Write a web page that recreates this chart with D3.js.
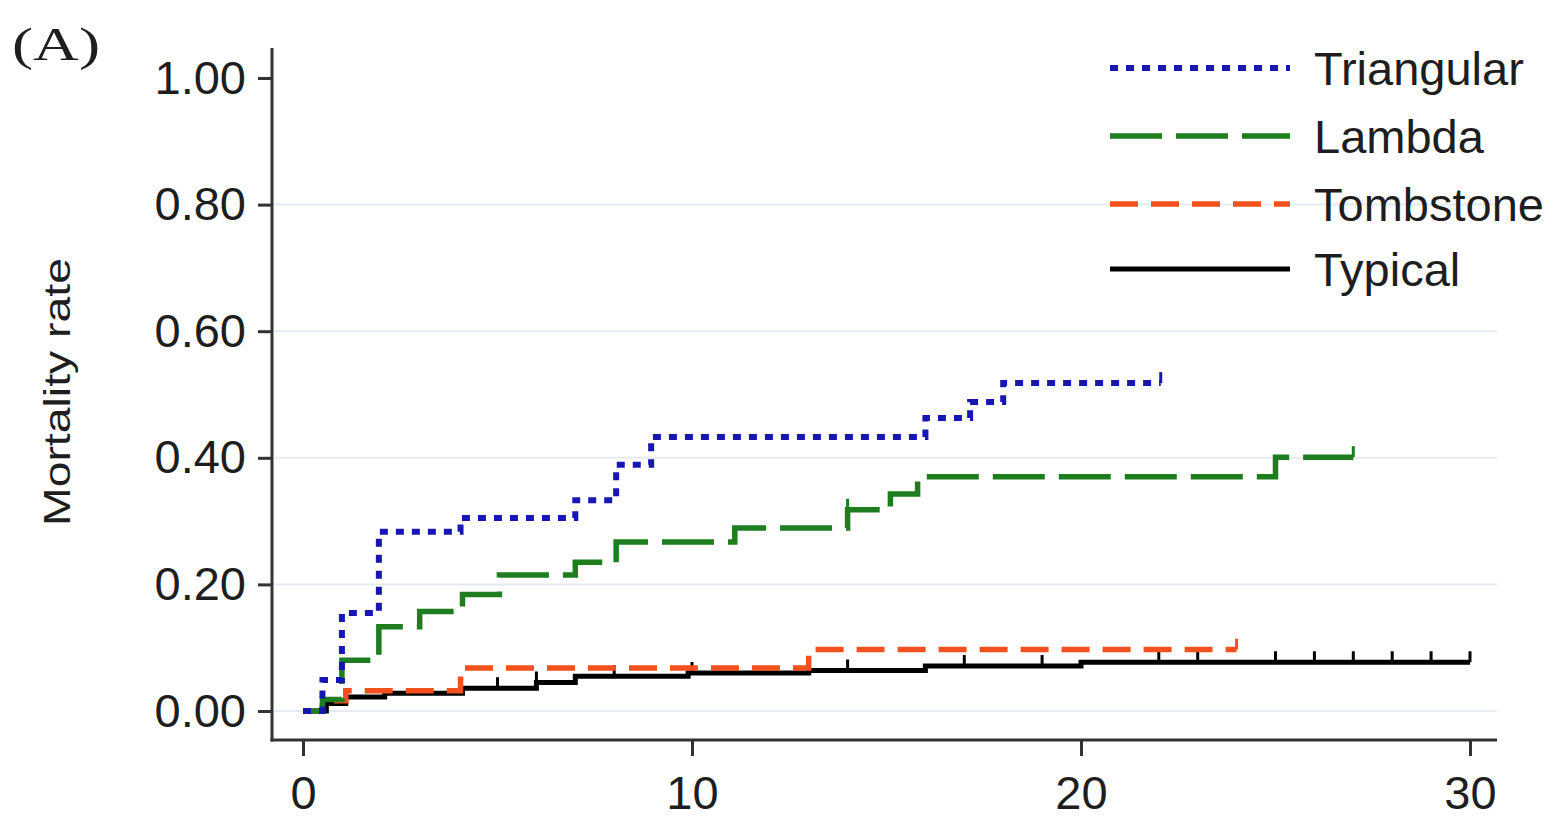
<!DOCTYPE html>
<html>
<head>
<meta charset="utf-8">
<script src="https://cdn.jsdelivr.net/npm/d3@7"></script>
<style>
  html, body { margin: 0; padding: 0; background: #ffffff; }
  svg { display: block; }
</style>
</head>
<body>
<svg id="chart" width="1563" height="822"></svg>
<script>
// Cumulative mortality (Kaplan–Meier style step curves) by pattern
const seriesNames = ["Triangular", "Lambda", "Tombstone", "Typical"];

const triangularTime = [0, 0.5, 1.0, 1.95, 4.05, 7.0, 8.05, 8.95, 16.0, 17.15, 18.0, 22.05];
const triangularRate = [0, 0.049, 0.155, 0.283, 0.305, 0.333, 0.389, 0.433, 0.463, 0.488, 0.518, 0.518];
const triangularCensor = [22.05];

const lambdaTime = [0, 0.5, 1.0, 1.95, 3.0, 4.1, 5.05, 7.0, 8.05, 11.1, 14.0, 15.1, 15.8, 25.0, 27.0];
const lambdaRate = [0, 0.018, 0.080, 0.133, 0.157, 0.184, 0.215, 0.235, 0.267, 0.289, 0.318, 0.343, 0.370, 0.401, 0.401];
const lambdaCensor = [14.0, 27.0];

const tombstoneTime = [0, 0.5, 1.1, 4.05, 13.0, 24.0];
const tombstoneRate = [0, 0.016, 0.032, 0.068, 0.097, 0.097];
const tombstoneCensor = [24.0];

const typicalTime = [0, 0.6, 1.1, 2.1, 4.1, 6.0, 7.0, 9.9, 13.0, 16.0, 20.0, 30.0];
const typicalRate = [0, 0.012, 0.022, 0.028, 0.036, 0.045, 0.055, 0.060, 0.064, 0.071, 0.077, 0.077];
const typicalCensor = [5, 6, 8, 10, 14, 17, 19, 22, 23, 25, 26, 27, 28, 29, 30];

const xTicks = [0, 10, 20, 30];
const yTicks = [0, 0.2, 0.4, 0.6, 0.8, 1.0];
const gridTicks = [0, 0.2, 0.4, 0.6, 0.8];

const svg = d3.select("#chart");

const x = d3.scaleLinear().domain([0, 30]).range([303, 1470]);
const y = d3.scaleLinear().domain([0, 1]).range([711, 78]);

const frame = { left: 272, right: 1497, top: 48, bottom: 740 };
const axisColor = "#333333";
const textColor = "#1e1e1e";

// light horizontal grid
svg.append("g").selectAll("line").data(gridTicks).join("line")
  .attr("x1", frame.left + 2).attr("x2", frame.right)
  .attr("y1", d => y(d)).attr("y2", d => y(d))
  .attr("stroke", "#e6ebf1").attr("stroke-width", 2);

// series definitions
function zip(ts, vs) { return ts.map((t, i) => [t, vs[i]]); }
const series = [
  { name: seriesNames[0], pts: zip(triangularTime, triangularRate), censor: triangularCensor, color: "#1616b4", dash: "8,8", width: 6 },
  { name: seriesNames[1], pts: zip(lambdaTime, lambdaRate), censor: lambdaCensor, color: "#1e7d1e", dash: "52,14", width: 5.5 },
  { name: seriesNames[2], pts: zip(tombstoneTime, tombstoneRate), censor: tombstoneCensor, color: "#f2501e", dash: "28,13", width: 5.5 },
  { name: seriesNames[3], pts: zip(typicalTime, typicalRate), censor: typicalCensor, color: "#000000", dash: null, width: 5 }
];

const stepLine = d3.line().x(d => x(d[0])).y(d => y(d[1])).curve(d3.curveStepAfter);

function valueAt(pts, t) {
  let v = pts[0][1];
  for (const p of pts) { if (p[0] <= t + 1e-9) v = p[1]; }
  return v;
}

// draw in reverse so Typical sits at the bottom and Triangular on top
const plot = svg.append("g");
series.slice().reverse().forEach(s => {
  plot.append("path")
    .attr("d", stepLine(s.pts))
    .attr("fill", "none")
    .attr("stroke", s.color)
    .attr("stroke-width", s.width)
    .attr("stroke-dasharray", s.dash)
    .attr("stroke-linejoin", "miter");
  plot.append("g").selectAll("line").data(s.censor).join("line")
    .attr("x1", d => x(d)).attr("x2", d => x(d))
    .attr("y1", d => y(valueAt(s.pts, d)))
    .attr("y2", d => y(valueAt(s.pts, d)) - 11)
    .attr("stroke", s.color)
    .attr("stroke-width", 3);
});

// axes
const yAxis = d3.axisLeft(y).tickValues(yTicks).tickFormat(d3.format(".2f")).tickSize(14).tickPadding(12);
const gy = svg.append("g").attr("transform", `translate(${frame.left},0)`).call(yAxis);
gy.select(".domain").remove();
gy.selectAll(".tick line").attr("stroke", axisColor).attr("stroke-width", 3);
gy.selectAll(".tick text")
  .attr("fill", textColor)
  .style("font-family", "'Liberation Sans', Arial, sans-serif")
  .style("font-size", "47px");

const xAxis = d3.axisBottom(x).tickValues(xTicks).tickFormat(d3.format("d")).tickSize(16).tickPadding(20);
const gx = svg.append("g").attr("transform", `translate(0,${frame.bottom})`).call(xAxis);
gx.select(".domain").remove();
gx.selectAll(".tick line").attr("stroke", axisColor).attr("stroke-width", 3);
gx.selectAll(".tick text")
  .attr("fill", textColor)
  .style("font-family", "'Liberation Sans', Arial, sans-serif")
  .style("font-size", "47px");

// axis lines
svg.append("line")
  .attr("x1", frame.left).attr("x2", frame.left)
  .attr("y1", frame.top).attr("y2", frame.bottom + 1.5)
  .attr("stroke", axisColor).attr("stroke-width", 3);
svg.append("line")
  .attr("x1", frame.left - 1.5).attr("x2", frame.right)
  .attr("y1", frame.bottom).attr("y2", frame.bottom)
  .attr("stroke", axisColor).attr("stroke-width", 3);

// y-axis title
svg.append("text")
  .attr("transform", "translate(70,392) rotate(-90)")
  .attr("text-anchor", "middle")
  .attr("textLength", 268)
  .attr("lengthAdjust", "spacingAndGlyphs")
  .attr("fill", textColor)
  .style("font-family", "'Liberation Sans', Arial, sans-serif")
  .style("font-size", "36px")
  .text("Mortality rate");

// panel label
svg.append("text")
  .attr("x", 12).attr("y", 60)
  .attr("textLength", 88)
  .attr("lengthAdjust", "spacingAndGlyphs")
  .attr("fill", textColor)
  .style("font-family", "'Liberation Serif', 'Times New Roman', serif")
  .style("font-size", "46px")
  .text("(A)");

// legend
const legendRows = [68, 136, 204, 269];
const legend = svg.append("g");
series.forEach((s, i) => {
  legend.append("line")
    .attr("x1", 1110).attr("x2", 1290)
    .attr("y1", legendRows[i]).attr("y2", legendRows[i])
    .attr("stroke", s.color)
    .attr("stroke-width", s.width)
    .attr("stroke-dasharray", s.dash);
  legend.append("text")
    .attr("x", 1314).attr("y", legendRows[i])
    .attr("dy", "0.36em")
    .attr("fill", textColor)
    .style("font-family", "'Liberation Sans', Arial, sans-serif")
    .style("font-size", "47px")
    .text(s.name);
});
</script>
</body>
</html>
